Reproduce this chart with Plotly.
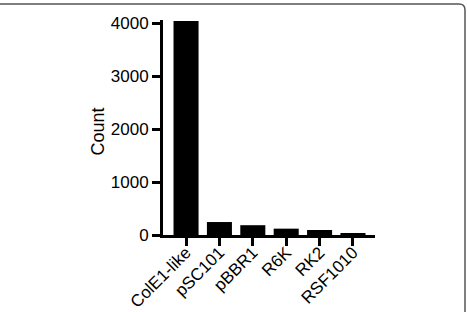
import plotly.graph_objects as go

categories = ["ColE1-like", "pSC101", "pBBR1", "R6K", "RK2", "RSF1010"]
counts = [4040, 245, 185, 120, 95, 25]
y_ticks = [0, 1000, 2000, 3000, 4000]
y_title = "Count"

W, H = 467, 312
L, R, T, B = 163, 92, 20, 77
pw, ph = W - L - R, H - T - B

def px(x):
    return (x - L) / pw

def py(y):
    return (H - B - y) / ph

# rounded frame path (pixel -> paper)
r = 6
x0, x1, y0, y1 = -6, 465, 4, 330
path = (
    f"M {px(x0)},{py(y0)} L {px(x1 - r)},{py(y0)} "
    f"Q {px(x1)},{py(y0)} {px(x1)},{py(y0 + r)} "
    f"L {px(x1)},{py(y1)}"
)

fig = go.Figure(
    go.Bar(
        x=categories,
        y=counts,
        marker=dict(color="black", line=dict(width=0)),
    )
)

font = dict(family="Liberation Sans, Arial, sans-serif", size=17, color="black")
title_font = dict(family="Liberation Sans, Arial, sans-serif", size=18, color="black")

fig.update_layout(
    width=W,
    height=H,
    margin=dict(l=L, r=R, t=T, b=B, autoexpand=False),
    paper_bgcolor="white",
    plot_bgcolor="white",
    bargap=0.25,
    showlegend=False,
    font=font,
    shapes=[
        dict(
            type="path",
            path=path,
            xref="paper",
            yref="paper",
            line=dict(color="#555555", width=1.5),
            layer="above",
        )
    ],
    annotations=[
        dict(
            text=y_title,
            xref="paper",
            yref="paper",
            x=px(97),
            y=py(131.5),
            xanchor="center",
            yanchor="middle",
            textangle=-90,
            showarrow=False,
            font=title_font,
        )
    ],
)

fig.update_xaxes(
    type="category",
    range=[-0.69, 5.66],
    showline=True,
    linecolor="black",
    linewidth=3,
    ticks="outside",
    ticklen=8,
    tickwidth=2.5,
    tickcolor="black",
    tickangle=-45,
    tickfont=font,
    ticklabelstandoff=-10,
    showgrid=False,
    zeroline=False,
    automargin=False,
)

fig.update_yaxes(
    range=[0, 4060],
    tickvals=y_ticks,
    ticktext=[str(v) for v in y_ticks],
    showline=True,
    linecolor="black",
    linewidth=3,
    ticks="outside",
    ticklen=8,
    tickwidth=2.5,
    tickcolor="black",
    tickfont=font,
    showgrid=False,
    zeroline=False,
    automargin=False,
)

fig.write_html("out.html")
